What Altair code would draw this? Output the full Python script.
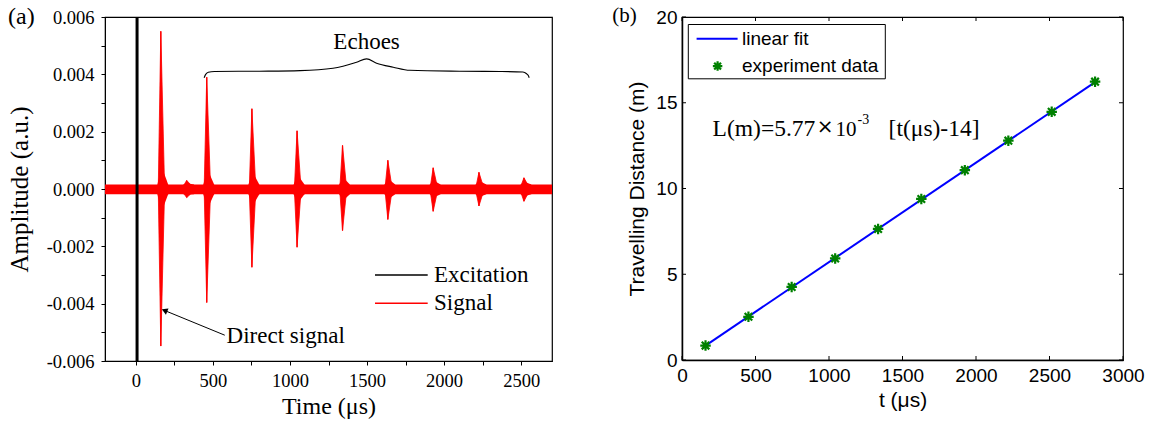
import altair as alt
import pandas as pd

# ---------------- data: panel (a) ----------------
echo_t = [162, 330, 460, 753, 1046, 1341, 1635, 1929, 2226, 2518]
echo_pos = [0.0055, 0.0003, 0.0039, 0.0028, 0.00203, 0.00152, 0.00100, 0.00074, 0.00058, 0.00039]
echo_neg = [-0.00548, -0.0003, -0.00396, -0.00273, -0.00203, -0.00145, -0.00106, -0.00078, -0.00059, -0.00043]
base_pos = [0.0008, 0.0002, 0.0007, 0.0006, 0.0005, 0.0004, 0.00035, 0.0003, 0.00028, 0.00025]
base_neg = [-0.0008, -0.0002, -0.0007, -0.0006, -0.0005, -0.0004, -0.00035, -0.0003, -0.00028, -0.00025]
noise_t = [-200, 2700]
noise_hi = [0.00016, 0.00016]
noise_lo = [-0.00018, -0.00018]
excitation_t = [8]
excitation_hi = [0.006]
excitation_lo = [-0.006]
brace_t = [443, 452, 470, 510, 800, 1066, 1279, 1432, 1497, 1562, 1670, 1778, 2100, 2362, 2511, 2535, 2547, 2552]
brace_v = [0.00388, 0.00399, 0.00407, 0.00410, 0.00411, 0.00413, 0.00421, 0.00442, 0.00454,
           0.00439, 0.00425, 0.00414, 0.00411, 0.00410, 0.00408, 0.00402, 0.00395, 0.00388]
arrow_t = [577, 192]
arrow_v = [-0.00510, -0.00425]
xa_ticks = [0, 250, 500, 750, 1000, 1250, 1500, 1750, 2000, 2250, 2500]
ya_ticks = [-0.006, -0.005, -0.004, -0.003, -0.002, -0.001, 0.0, 0.001, 0.002, 0.003, 0.004, 0.005, 0.006]

# ---------------- data: panel (b) ----------------
meas_t = [160, 452, 746, 1042, 1334, 1628, 1924, 2220, 2515, 2810]
meas_L = [0.84, 2.52, 4.26, 5.92, 7.64, 9.39, 11.07, 12.79, 14.47, 16.23]
fit_t = [160, 2810]
fit_L = [0.84, 16.2]
xb_ticks = [0, 500, 1000, 1500, 2000, 2500, 3000]
yb_ticks = [0, 5, 10, 15, 20]

SERIF = "Liberation Serif"
SANS = "Liberation Sans"

# spike drawing style (half-widths in time units, left / right of the peak)
SPIKE_L, SPIKE_R = 16, 24
BULGE_L, BULGE_R = 22, 48

# ================= panel (a) =================
WA, HA = 447, 344
xs_a = alt.Scale(domain=[-200, 2700], nice=False, zero=False)
ys_a = alt.Scale(domain=[-0.006, 0.006], nice=False, zero=False)
ax_xa = alt.Axis(values=xa_ticks, labelExpr="datum.value % 500 == 0 ? datum.value : ''",
                 title="Time (μs)", grid=False, tickSize=4, tickColor="black", tickWidth=1,
                 domainColor="black", labelFont=SERIF, labelFontSize=18.5, labelColor="black",
                 labelPadding=6, labelFlush=False, titleFont=SERIF, titleFontSize=24,
                 titleFontWeight="normal", titleColor="black", titlePadding=5)
ax_ya = alt.Axis(values=ya_ticks,
                 labelExpr="abs(round(datum.value*1000)) % 2 == 0 ? (datum.value < -0.0000001 ? '-' : '') + format(abs(datum.value), '.3f') : ''",
                 title="Amplitude (a.u.)", grid=False, tickSize=4, tickColor="black", tickWidth=1,
                 domainColor="black", labelFont=SERIF, labelFontSize=18.5, labelColor="black",
                 labelPadding=7, labelFlush=False, titleFont=SERIF, titleFontSize=25,
                 titleFontWeight="normal", titleColor="black", titlePadding=14)

def XA(f):
    return alt.X(f, type="quantitative", scale=xs_a, axis=ax_xa)

def YA(f):
    return alt.Y(f, type="quantitative", scale=ys_a, axis=ax_ya)

# envelope table for the echo spikes (corners of each spike)
rows = []
for i, (t, p, n) in enumerate(zip(echo_t, echo_pos, echo_neg)):
    rows.append({"g": i, "t": t - SPIKE_L, "hi": noise_hi[0], "lo": noise_lo[0]})
    rows.append({"g": i, "t": t, "hi": p, "lo": n})
    rows.append({"g": i, "t": t + SPIKE_R, "hi": noise_hi[0], "lo": noise_lo[0]})
spike_df = pd.DataFrame(rows)
rows = []
for i, (t, bp, bn) in enumerate(zip(echo_t, base_pos, base_neg)):
    rows.append({"g": i, "t": t - BULGE_L, "hi": noise_hi[0], "lo": noise_lo[0]})
    rows.append({"g": i, "t": t + 4, "hi": bp, "lo": bn})
    rows.append({"g": i, "t": t + BULGE_R, "hi": noise_hi[0], "lo": noise_lo[0]})
bulge_df = pd.DataFrame(rows)

echo_df = pd.DataFrame({"t": echo_t, "pos": echo_pos, "neg": echo_neg})
noise_df = pd.DataFrame({"t": noise_t, "hi": noise_hi, "lo": noise_lo})
exc_df = pd.DataFrame({"t": excitation_t, "hi": excitation_hi, "lo": excitation_lo})
brace_df = pd.DataFrame({"t": brace_t, "v": brace_v})
arrow_df = pd.DataFrame({"t": arrow_t, "v": arrow_v})

RED = "#ff0000"
noise = alt.Chart(noise_df).mark_area(color=RED).encode(x=XA("t"), y=YA("hi"), y2="lo")
bulges = alt.Chart(bulge_df).mark_area(color=RED).encode(
    x=XA("t"), y=YA("hi"), y2="lo", detail="g:N")
spikes = alt.Chart(spike_df).mark_area(color=RED, stroke=RED, strokeWidth=0.8).encode(
    x=XA("t"), y=YA("hi"), y2="lo", detail="g:N")
cores = alt.Chart(echo_df).mark_rule(color=RED, strokeWidth=1.2).encode(
    x=XA("t"), y=YA("pos"), y2="neg")
excitation = alt.Chart(exc_df).mark_rule(color="black", strokeWidth=3).encode(
    x=XA("t"), y=YA("hi"), y2="lo")
brace = alt.Chart(brace_df).mark_line(color="black", strokeWidth=1.1, interpolate="monotone").encode(
    x=XA("t"), y=YA("v"))
echoes_txt = alt.Chart(pd.DataFrame({"t": [1497], "v": [0.00512], "s": ["Echoes"]})).mark_text(
    font=SERIF, fontSize=23, color="black", align="center", baseline="middle").encode(
    x=XA("t"), y=YA("v"), text="s:N")
arrow = alt.Chart(arrow_df).mark_line(color="black", strokeWidth=1).encode(x=XA("t"), y=YA("v"))
arrow_head = alt.Chart(pd.DataFrame({"t": [arrow_t[1]], "v": [arrow_v[1]]})).mark_point(
    shape="triangle", filled=True, color="black", size=45, angle=292.6, opacity=1).encode(
    x=XA("t"), y=YA("v"))
direct_txt = alt.Chart(pd.DataFrame({"t": [589], "v": [-0.00514], "s": ["Direct signal"]})).mark_text(
    font=SERIF, fontSize=23, color="black", align="left", baseline="middle").encode(
    x=XA("t"), y=YA("v"), text="s:N")

leg_a_names = ["Excitation", "Signal"]
leg_a_colors = ["black", RED]
leg_a = []
for i, (nm, c) in enumerate(zip(leg_a_names, leg_a_colors)):
    yy = 258 + i * 28.3
    leg_a.append(alt.Chart(pd.DataFrame({"s": [nm]})).mark_rule(color=c, strokeWidth=1.5).encode(
        x=alt.value(270), x2=alt.value(322.7), y=alt.value(yy)))
    leg_a.append(alt.Chart(pd.DataFrame({"s": [nm]})).mark_text(
        font=SERIF, fontSize=23, color="black", align="left", baseline="middle").encode(
        x=alt.value(329), y=alt.value(yy), text="s:N"))

label_a = alt.Chart(pd.DataFrame({"s": ["(a)"]})).mark_text(
    font=SERIF, fontSize=24, color="black", align="left", baseline="middle").encode(
    x=alt.value(-97), y=alt.value(-0.5), text="s:N")

panel_a = alt.layer(noise, bulges, spikes, cores, excitation, brace, echoes_txt, arrow, arrow_head,
                    direct_txt, *leg_a, label_a).properties(width=WA, height=HA)

# ================= panel (b) =================
WB, HB = 441, 343
xs_b = alt.Scale(domain=[0, 3000], nice=False, zero=False)
ys_b = alt.Scale(domain=[0, 20], nice=False, zero=False)
ax_xb = alt.Axis(values=xb_ticks, format="d", title="t (μs)", grid=False, ticks=False, tickSize=0,
                 domainColor="black", domainWidth=1.5, labelFont=SANS, labelFontSize=19,
                 labelColor="black", labelPadding=6, labelFlush=False, titleFont=SANS, titleFontSize=21,
                 titleFontWeight="normal", titleColor="black", titlePadding=4)
ax_yb = alt.Axis(values=yb_ticks, format="d", title="Travelling Distance (m)", grid=False, ticks=False,
                 tickSize=0, domainColor="black", domainWidth=1.5, labelFont=SANS, labelFontSize=19,
                 labelColor="black", labelPadding=5, labelFlush=False, titleFont=SANS, titleFontSize=21,
                 titleFontWeight="normal", titleColor="black", titlePadding=8)

def XB(f):
    return alt.X(f, type="quantitative", scale=xs_b, axis=ax_xb)

def YB(f):
    return alt.Y(f, type="quantitative", scale=ys_b, axis=ax_yb)

STAR = "M -1 0 L 1 0 M 0 -1 L 0 1 M -0.72 -0.72 L 0.72 0.72 M -0.72 0.72 L 0.72 -0.72"
GREEN = "#008000"
BLUE = "#0000ff"

fit = alt.Chart(pd.DataFrame({"t": fit_t, "L": fit_L})).mark_line(color=BLUE, strokeWidth=2).encode(
    x=XB("t"), y=YB("L"))
pts = alt.Chart(pd.DataFrame({"t": meas_t, "L": meas_L})).mark_point(
    shape=STAR, filled=False, stroke=GREEN, strokeWidth=2.2, size=110, opacity=1).encode(
    x=XB("t"), y=YB("L"))

xt = pd.DataFrame({"t": xb_ticks})
yt = pd.DataFrame({"L": yb_ticks})
tk_bottom = alt.Chart(xt).mark_rule(color="black", strokeWidth=1).encode(
    x=XB("t"), y=alt.value(HB), y2=alt.value(HB - 4))
tk_top = alt.Chart(xt).mark_rule(color="black", strokeWidth=1).encode(
    x=XB("t"), y=alt.value(0), y2=alt.value(4))
tk_left = alt.Chart(yt).mark_rule(color="black", strokeWidth=1).encode(
    y=YB("L"), x=alt.value(0), x2=alt.value(4))
tk_right = alt.Chart(yt).mark_rule(color="black", strokeWidth=1).encode(
    y=YB("L"), x=alt.value(WB), x2=alt.value(WB - 4))

leg_box = alt.Chart(pd.DataFrame({"s": ["box"]})).mark_rect(
    fill="white", stroke="black", strokeWidth=1).encode(
    x=alt.value(6.3), x2=alt.value(203.3), y=alt.value(7.5), y2=alt.value(61.8))
leg_line = alt.Chart(pd.DataFrame({"s": ["linear fit"]})).mark_rule(color=BLUE, strokeWidth=2).encode(
    x=alt.value(14.6), x2=alt.value(55.6), y=alt.value(21.8))
leg_star = alt.Chart(pd.DataFrame({"s": ["experiment data"]})).mark_point(
    shape=STAR, filled=False, stroke=GREEN, strokeWidth=2.2, size=90, opacity=1).encode(
    x=alt.value(35.6), y=alt.value(49.1))
leg_b_txt = [
    alt.Chart(pd.DataFrame({"s": [nm]})).mark_text(
        font=SANS, fontSize=19, color="black", align="left", baseline="middle").encode(
        x=alt.value(60), y=alt.value(yy), text="s:N")
    for nm, yy in [("linear fit", 21.8), ("experiment data", 49.1)]
]

def eq_text(s, x, y, size, font=SERIF, align="left"):
    return alt.Chart(pd.DataFrame({"s": [s]})).mark_text(
        font=font, fontSize=size, color="black", align=align, baseline="alphabetic").encode(
        x=alt.value(x), y=alt.value(y), text="s:N")

eq = [
    eq_text("L(m)=5.77", 30.6, 118.5, 23.5),
    eq_text("×", 143, 115.5, 20, font="DejaVu Sans", align="center"),
    eq_text("10", 153.5, 118.5, 21),
    eq_text("-3", 175.5, 106.5, 14),
    eq_text("[t(μs)-14]", 206.6, 118.5, 23.5),
]

label_b = alt.Chart(pd.DataFrame({"s": ["(b)"]})).mark_text(
    font=SERIF, fontSize=21, color="black", align="left", baseline="middle").encode(
    x=alt.value(-69.7), y=alt.value(-1.5), text="s:N")

panel_b = alt.layer(fit, pts, tk_bottom, tk_top, tk_left, tk_right, leg_box, leg_line, leg_star,
                    *leg_b_txt, *eq, label_b).properties(width=WB, height=HB)

chart = alt.hconcat(panel_a, panel_b, spacing=58).properties(
    padding={"left": 6, "top": 3, "right": 0, "bottom": 0},
    background="white",
).configure_view(stroke="black", strokeWidth=1.2)

chart.save("out.html", embed_options={"renderer": "svg", "actions": False})
